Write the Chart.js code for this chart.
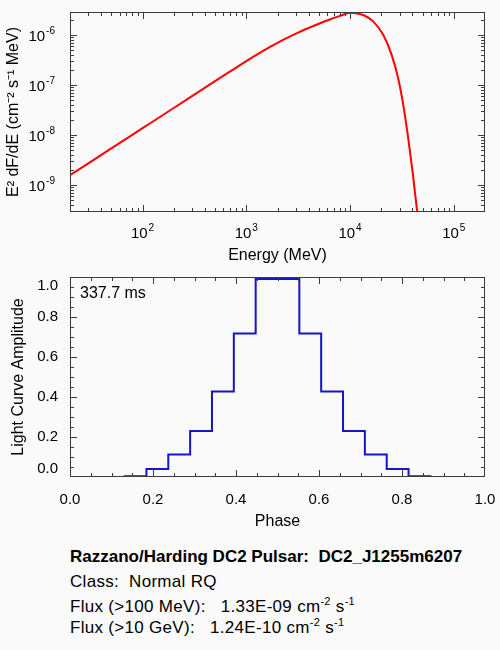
<!DOCTYPE html>
<html>
<head>
<meta charset="utf-8">
<script src="https://cdn.jsdelivr.net/npm/chart.js@4.4.1/dist/chart.umd.min.js"></script>
<style>
  body { margin: 0; background: #fafafa; }
  #page { position: relative; width: 500px; height: 650px; overflow: hidden; background: #fafafa;
          font-family: "Liberation Sans", Arial, sans-serif; color: #000; }
  #spec { position: absolute; left: 0; top: 0; }
  #lc { position: absolute; left: 0; top: 270px; }
  .txt { position: absolute; left: 70px; font-size: 17px; line-height: 20px; white-space: pre; letter-spacing: 0.3px; }
  .txt sup { font-size: 11px; vertical-align: 7px; line-height: 0; }
  .bold { font-weight: bold; letter-spacing: 0; }
  #period { left: 80px; top: 283px; font-size: 16px; letter-spacing: 0; }
</style>
</head>
<body>
<div id="page">
  <canvas id="spec" width="500" height="270"></canvas>
  <canvas id="lc" width="500" height="260"></canvas>
  <div class="txt" id="period">337.7 ms</div>
  <div class="txt bold" style="top:547px">Razzano/Harding DC2 Pulsar:  DC2_J1255m6207</div>
  <div class="txt" style="top:572px">Class:  Normal RQ</div>
  <div class="txt" style="top:597px">Flux (&gt;100 MeV):   1.33E-09 cm<sup>-2</sup> s<sup>-1</sup></div>
  <div class="txt" style="top:618px">Flux (&gt;10 GeV):   1.24E-10 cm<sup>-2</sup> s<sup>-1</sup></div>
</div>
<script>
// spectrum (MeV, MeV cm^-2 s^-1)
const energies = [20, 50, 100, 200, 500, 800, 1000, 1300, 1600, 2000, 2500, 3200, 4000, 5000,
                  6300, 8000, 10000, 11500, 13400, 16700, 20900, 25200, 29100, 32600, 36400,
                  40100, 44400, 47000];
const e2dfde = [1.58e-9, 5.41e-9, 1.37e-8, 3.47e-8, 1.19e-7, 2.22e-7, 2.99e-7, 4.18e-7, 5.37e-7, 6.92e-7,
                8.77e-7, 1.12e-6, 1.37e-6, 1.66e-6, 2.0e-6, 2.38e-6, 2.75e-6, 2.68e-6, 2.48e-6, 1.85e-6,
                1.0e-6, 3.98e-7, 1.36e-7, 3.98e-8, 8.6e-9, 1.85e-9, 2.92e-10, 1.0e-10];

// light curve, 20 phase bins drawn as a histogram
const phases = [0, 0.0526, 0.1053, 0.1579, 0.2105, 0.2632, 0.3158, 0.3684, 0.4211, 0.4737,
                0.5263, 0.5789, 0.6316, 0.6842, 0.7368, 0.7895, 0.8421, 0.8947, 0.9474, 1.0];
const amplitude = [0, 0, 0, 0.004, 0.04, 0.112, 0.23, 0.428, 0.717, 0.99,
                   0.99, 0.717, 0.428, 0.23, 0.112, 0.04, 0.004, 0, 0, 0];

const energyTicks = [1e2, 1e3, 1e4, 1e5];
const fluxTicks = [1e-9, 1e-8, 1e-7, 1e-6];
const phaseTicks = [0, 0.2, 0.4, 0.6, 0.8, 1.0];
const ampTicks = [0, 0.2, 0.4, 0.6, 0.8, 1.0];

const FONT = '"Liberation Sans", Arial, sans-serif';
Chart.defaults.font.family = FONT;
Chart.defaults.font.size = 16;
Chart.defaults.color = '#000';

const expLabel = v => ({ v: v, text: '10', sup: String(Math.round(Math.log10(v))) });
const decLabel = v => ({ v: v, text: v.toFixed(1) });

function logMinors(lo, hi) {
  const out = [];
  for (let e = Math.floor(Math.log10(lo)); e <= Math.ceil(Math.log10(hi)); e++) {
    for (let m = 2; m <= 9; m++) {
      const v = m * Math.pow(10, e);
      if (v >= lo && v <= hi) out.push(v);
    }
  }
  return out;
}
function linMinors(lo, hi, step) {
  const out = [];
  for (let v = lo; v <= hi + 1e-9; v += step) out.push(v);
  return out;
}

function drawLabel(ctx, lab, x, y, align) {
  ctx.font = '15px ' + FONT;
  const wb = ctx.measureText(lab.text).width;
  let we = 0;
  if (lab.sup) { ctx.font = '10px ' + FONT; we = ctx.measureText(lab.sup).width + 1; }
  const x0 = align === 'center' ? x - (wb + we) / 2 : x - (wb + we);
  ctx.font = '15px ' + FONT;
  ctx.fillText(lab.text, x0, y);
  if (lab.sup) {
    ctx.font = '10px ' + FONT;
    ctx.fillText(lab.sup, x0 + wb + 1, y - 6);
  }
}

// IDL style box: frame on all four sides, ticks pointing inward, labels outside
const framePlugin = {
  id: 'frame',
  afterDatasetsDraw(chart, args, opts) {
    const { ctx, chartArea: a, scales } = chart;
    ctx.save();
    ctx.strokeStyle = '#3c3c3c';
    ctx.lineWidth = 1;
    ctx.strokeRect(a.left + 0.5, a.top + 0.5, a.right - a.left - 1, a.bottom - a.top - 1);
    ctx.beginPath();
    [[opts.xMajor, 7], [opts.xMinor, 4]].forEach(([vals, len]) => {
      vals.forEach(v => {
        const px = Math.round(scales.x.getPixelForValue(v)) + 0.5;
        if (px < a.left || px > a.right) return;
        ctx.moveTo(px, a.bottom); ctx.lineTo(px, a.bottom - len);
        ctx.moveTo(px, a.top); ctx.lineTo(px, a.top + len);
      });
    });
    [[opts.yMajor, 7], [opts.yMinor, 4]].forEach(([vals, len]) => {
      vals.forEach(v => {
        const py = Math.round(scales.y.getPixelForValue(v)) + 0.5;
        if (py < a.top || py > a.bottom) return;
        ctx.moveTo(a.left, py); ctx.lineTo(a.left + len, py);
        ctx.moveTo(a.right, py); ctx.lineTo(a.right - len, py);
      });
    });
    ctx.stroke();

    ctx.fillStyle = '#000';
    ctx.textAlign = 'left';
    ctx.textBaseline = 'middle';
    opts.xLabels.forEach(lab => {
      drawLabel(ctx, lab, scales.x.getPixelForValue(lab.v), a.bottom + opts.xLabelGap, 'center');
    });
    opts.yLabels.forEach(lab => {
      let y = scales.y.getPixelForValue(lab.v) + opts.yLabelShift;
      // keep the end labels inside the box, as the original plot does
      if (opts.nudgeEnds) y = Math.min(Math.max(y, a.top + 9), a.bottom - 8);
      drawLabel(ctx, lab, a.left - opts.yLabelGap, y, 'right');
    });
    ctx.restore();
  }
};

const xMinE = 20, xMaxE = 2e5, yMinF = 2.92e-10, yMaxF = 2.85e-6;

new Chart(document.getElementById('spec'), {
  type: 'line',
  data: {
    datasets: [{
      data: energies.map((e, i) => ({ x: e, y: e2dfde[i] })),
      borderColor: '#ff0000',
      borderWidth: 2,
      pointRadius: 0,
      cubicInterpolationMode: 'monotone'
    }]
  },
  options: {
    responsive: false,
    animation: false,
    layout: { padding: { top: 12, right: 15, left: 0, bottom: 0 } },
    plugins: {
      legend: { display: false },
      tooltip: { enabled: false },
      frame: {
        xMajor: energyTicks, xMinor: logMinors(xMinE, xMaxE),
        yMajor: fluxTicks, yMinor: logMinors(yMinF, yMaxF),
        xLabels: energyTicks.map(expLabel), xLabelGap: 22,
        yLabels: fluxTicks.map(expLabel), yLabelGap: 15, yLabelShift: 2, nudgeEnds: false
      }
    },
    scales: {
      x: {
        type: 'logarithmic', min: xMinE, max: xMaxE,
        grid: { display: false }, border: { display: false }, ticks: { display: false },
        afterFit: s => { s.height = 58; },
        title: { display: true, text: 'Energy (MeV)', font: { size: 16, lineHeight: 1 }, padding: { top: 0, bottom: 6 } }
      },
      y: {
        type: 'logarithmic', min: yMinF, max: yMaxF,
        grid: { display: false }, border: { display: false }, ticks: { display: false },
        afterFit: s => { s.width = 70; },
        title: { display: true, text: 'E\u00B2 dF/dE (cm\u207B\u00B2 s\u207B\u00B9 MeV)', font: { size: 16, lineHeight: 1 }, padding: { top: 6, bottom: 0 } }
      }
    }
  },
  plugins: [framePlugin]
});

new Chart(document.getElementById('lc'), {
  type: 'line',
  data: {
    datasets: [{
      data: phases.map((p, i) => ({ x: p, y: amplitude[i] })),
      borderColor: '#1414c8',
      borderWidth: 2,
      pointRadius: 0,
      stepped: 'middle'
    }]
  },
  options: {
    responsive: false,
    animation: false,
    layout: { padding: { top: 7, right: 15, left: 0, bottom: 0 } },
    plugins: {
      legend: { display: false },
      tooltip: { enabled: false },
      frame: {
        xMajor: phaseTicks, xMinor: linMinors(0, 1, 0.05),
        yMajor: ampTicks, yMinor: linMinors(0, 1, 0.05),
        xLabels: phaseTicks.map(decLabel), xLabelGap: 23,
        yLabels: ampTicks.map(decLabel), yLabelGap: 12, yLabelShift: 0, nudgeEnds: true
      }
    },
    scales: {
      x: {
        type: 'linear', min: 0, max: 1,
        grid: { display: false }, border: { display: false }, ticks: { display: false },
        afterFit: s => { s.height = 53; },
        title: { display: true, text: 'Phase', font: { size: 16, lineHeight: 1 }, padding: { top: 0, bottom: 0 } }
      },
      y: {
        type: 'linear', min: 0, max: 1,
        grid: { display: false }, border: { display: false }, ticks: { display: false },
        afterFit: s => { s.width = 70; },
        title: { display: true, text: 'Light Curve Amplitude', font: { size: 16, lineHeight: 1 }, padding: { top: 11, bottom: 0 } }
      }
    }
  },
  plugins: [framePlugin]
});
</script>
</body>
</html>
